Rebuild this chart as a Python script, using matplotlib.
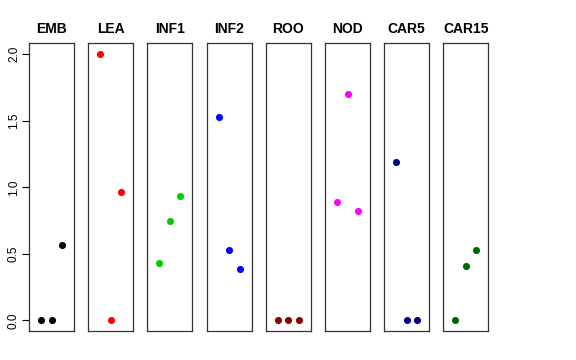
import numpy as np
import matplotlib
matplotlib.use('Agg')
from matplotlib import pyplot as plt

plt.rcParams['font.family'] = ['Liberation Sans', 'DejaVu Sans']

tissues = ['EMB', 'LEA', 'INF1', 'INF2', 'ROO', 'NOD', 'CAR5', 'CAR15']
colors = ['black', 'red', '#00CD00', 'blue', '#8B0000', 'magenta', '#00008B', '#006400']
reps = [1, 2, 3]

EMB = [0.0, 0.0, 0.568]
LEA = [2.004, 0.0, 0.965]
INF1 = [0.428, 0.747, 0.932]
INF2 = [1.531, 0.526, 0.388]
ROO = [0.0, 0.0, 0.0]
NOD = [0.887, 1.699, 0.824]
CAR5 = [1.192, 0.0, 0.0]
CAR15 = [0.0, 0.41, 0.526]
values = [EMB, LEA, INF1, INF2, ROO, NOD, CAR5, CAR15]

fig = plt.figure(figsize=(5.76, 3.6), dpi=100)

W, H = 576.0, 360.0
left0, step, width = 29.0, 59.2, 45.0
top, bottom = 43.0, 331.0

for i, (name, col, vals) in enumerate(zip(tissues, colors, values)):
    ax = fig.add_axes([(left0 + i*step)/W, 1 - bottom/H, width/W, (bottom - top)/H])
    ax.scatter(reps, vals, s=26, color=col, zorder=3, linewidths=0)
    ax.set_xlim(-0.16, 4.16)
    ax.set_ylim(-0.08, 2.084)
    ax.set_xticks([])
    ax.set_title(name, fontsize=10, fontweight='bold', pad=7)
    for s in ax.spines.values():
        s.set_linewidth(0.9)
        s.set_color('#333333')
    if i == 0:
        ax.set_yticks([0.0, 0.5, 1.0, 1.5, 2.0])
        ax.set_yticklabels(['0.0', '0.5', '1.0', '1.5', '2.0'], rotation=90, va='center', fontsize=8.5)
        ax.tick_params(axis='y', length=5, width=0.8, pad=1.5)
    else:
        ax.set_yticks([])

fig.savefig('out.png', dpi=100)
